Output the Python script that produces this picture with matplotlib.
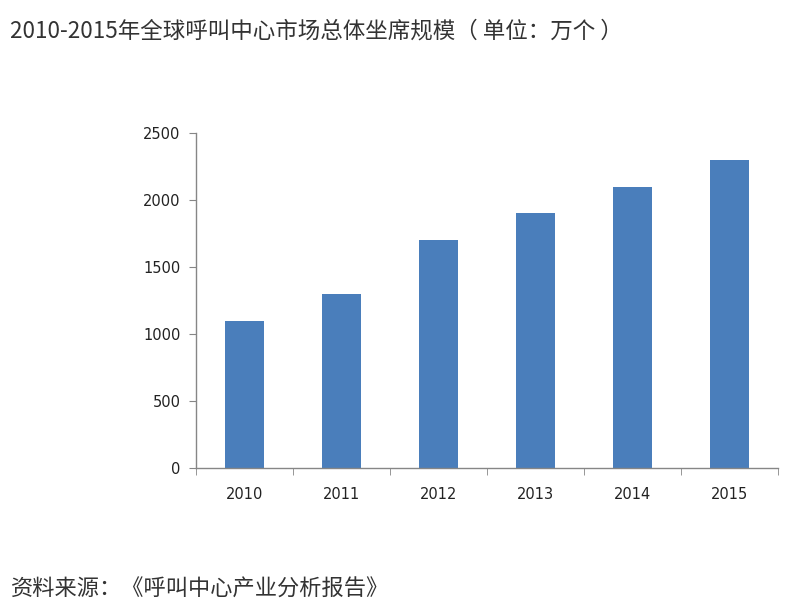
import matplotlib
matplotlib.use("Agg")
import matplotlib.pyplot as plt

plt.rcParams['font.family'] = ['Noto Sans CJK SC', 'DejaVu Sans']

years = ['2010', '2011', '2012', '2013', '2014', '2015']
values = [1100, 1300, 1700, 1900, 2100, 2300]
yticks = [0, 500, 1000, 1500, 2000, 2500]
title = '2010-2015年全球呼叫中心市场总体坐席规模（ 单位：万个 ）'
source = '资料来源：《呼叫中心产业分析报告》'

fig = plt.figure(figsize=(8, 6.07), dpi=100)
ax = fig.add_axes([0.245, 0.229, 0.7275, 0.552])

x = list(range(len(years)))
ax.bar(x, values, width=0.4, color='#4A7EBB', zorder=2)

ax.set_xlim(-0.5, len(years) - 0.5)
ax.set_ylim(0, 2500)
ax.set_yticks(yticks)
ax.set_yticklabels([str(v) for v in yticks], fontsize=10.5, color='#222222',
                   family=['DejaVu Sans'])
ax.set_xticks(x)
ax.set_xticklabels(years, fontsize=10.5, color='#222222', family=['DejaVu Sans'])
ax.set_xticks([i - 0.5 for i in range(len(years) + 1)], minor=True)
ax.tick_params(axis='x', which='major', length=0, pad=13.5)
ax.tick_params(axis='x', which='minor', length=5, color='#868686', direction='out')
ax.tick_params(axis='y', length=5, color='#868686', direction='out', pad=6)

for s in ['top', 'right']:
    ax.spines[s].set_visible(False)
for s in ['left', 'bottom']:
    ax.spines[s].set_color('#868686')
    ax.spines[s].set_linewidth(1.0)

fig.text(0.012, 1 - 31 / 607, title, fontsize=16.2, color='#333333',
         va='center', ha='left')
fig.text(0.014, 1 - 589 / 607, source, fontsize=16, color='#333333',
         va='center', ha='left')

fig.savefig('out.png', dpi=100)
